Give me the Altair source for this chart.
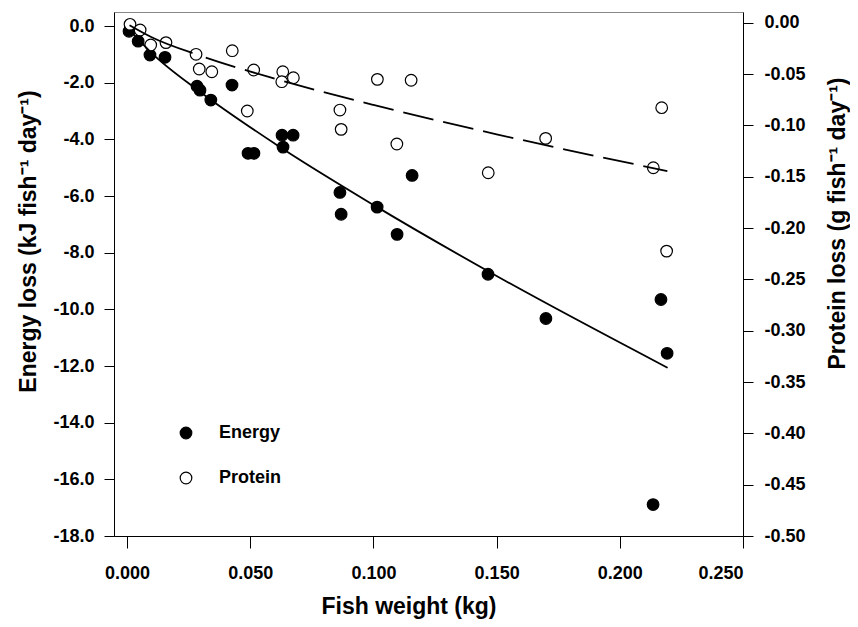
import altair as alt
import pandas as pd

# ---- data ----
energy_weight = [0.0008, 0.0045, 0.0093, 0.0154, 0.0284, 0.0296, 0.0340, 0.0426,
                 0.0491, 0.0515, 0.0629, 0.0633, 0.0674, 0.0864, 0.0869, 0.1015,
                 0.1096, 0.1157, 0.1465, 0.1700, 0.2167, 0.2192, 0.2135]
energy_loss = [-0.18, -0.53, -1.02, -1.10, -2.12, -2.26, -2.61, -2.08,
               -4.49, -4.49, -3.85, -4.27, -3.85, -5.87, -6.64, -6.39,
               -7.35, -5.27, -8.76, -10.32, -9.65, -11.55, -16.89]

protein_weight = [0.0012, 0.0053, 0.0096, 0.0158, 0.0280, 0.0293, 0.0344, 0.0427,
                  0.0488, 0.0514, 0.0632, 0.0628, 0.0675, 0.0864, 0.0869, 0.1016,
                  0.1153, 0.1095, 0.1466, 0.1699, 0.2170, 0.2136, 0.2190]
protein_loss = [-0.0016, -0.0071, -0.0217, -0.0194, -0.0308, -0.0451, -0.0478, -0.0273,
                -0.0860, -0.0461, -0.0478, -0.0575, -0.0536, -0.0851, -0.1039, -0.0552,
                -0.0561, -0.1182, -0.1462, -0.1127, -0.0828, -0.1413, -0.2225]

# fitted curves
energy_fit_weight = [0.001, 0.01, 0.03, 0.06, 0.10, 0.15, 0.2194]
energy_fit_loss = [-0.14, -0.95, -2.34, -4.15, -6.31, -8.82, -12.06]
protein_fit_weight = [0.001, 0.01, 0.03, 0.06, 0.10, 0.15, 0.2193]
protein_fit_loss = [-0.0025, -0.0142, -0.0324, -0.0546, -0.0801, -0.1087, -0.1445]

series_names = ["Energy", "Protein"]
x_ticks = [0.0, 0.05, 0.10, 0.15, 0.20, 0.25]
energy_ticks = [0, -2, -4, -6, -8, -10, -12, -14, -16, -18]
protein_ticks = [0.0, -0.05, -0.10, -0.15, -0.20, -0.25, -0.30, -0.35, -0.40, -0.45, -0.50]

energy_df = pd.DataFrame({"weight": energy_weight, "value": energy_loss, "series": "Energy"})
protein_df = pd.DataFrame({"weight": protein_weight, "value": protein_loss, "series": "Protein"})
energy_fit_df = pd.DataFrame({"weight": energy_fit_weight, "value": energy_fit_loss})
protein_fit_df = pd.DataFrame({"weight": protein_fit_weight, "value": protein_fit_loss})

FONT = "Liberation Sans"
MINUS = "\u2212"

x_enc = alt.X(
    "weight:Q",
    scale=alt.Scale(domain=[-0.0053, 0.25], nice=False, zero=False),
    axis=alt.Axis(
        values=x_ticks, format=".3f", title="Fish weight (kg)",
        tickSize=12, labelPadding=16,
        titleX=294.5, titleY=77, titleAlign="center", titleBaseline="alphabetic",
        titleAnchor="start",
    ),
)

energy_scale = alt.Scale(domain=[-18, 0.5], nice=False, zero=False)
protein_scale = alt.Scale(domain=[-0.5, 0.0104], nice=False, zero=False)

fill_enc = alt.Fill(
    "series:N",
    scale=alt.Scale(domain=series_names, range=["black", "white"]),
    legend=alt.Legend(
        title=None, orient="none", legendX=63, legendY=412,
        symbolType="circle", symbolSize=135, symbolStrokeColor="black",
        symbolStrokeWidth=1.2, labelFont=FONT, labelFontSize=18,
        labelFontWeight="bold", labelColor="black", labelOffset=24,
        rowPadding=27, padding=0,
    ),
)

energy_pts = alt.Chart(energy_df).mark_circle(
    size=135, opacity=1, stroke="black", strokeWidth=1.2
).encode(
    x=x_enc,
    y=alt.Y(
        "value:Q", scale=energy_scale,
        axis=alt.Axis(
            orient="left", values=energy_ticks, title="Energy loss (kJ fish\u207b\u00b9 day\u207b\u00b9)",
            labelExpr="replace(format(datum.value, '.1f'), '" + MINUS + "', '-')",
            tickSize=10, labelPadding=10,
            titleAngle=270, titleX=-79, titleY=229, titleAlign="center",
            titleBaseline="alphabetic", titleAnchor="start",
        ),
    ),
    fill=fill_enc,
)

protein_pts = alt.Chart(protein_df).mark_circle(
    size=135, opacity=1, stroke="black", strokeWidth=1.2
).encode(
    x=x_enc,
    y=alt.Y(
        "value:Q", scale=protein_scale,
        axis=alt.Axis(
            orient="right", values=protein_ticks, title="Protein loss (g fish\u207b\u00b9 day\u207b\u00b9)",
            labelExpr="replace(format(datum.value, '.2f'), '" + MINUS + "', '-')",
            tickSize=10, labelPadding=11,
            titleAngle=270, titleX=101, titleY=211, titleAlign="center",
            titleBaseline="alphabetic", titleAnchor="start",
        ),
    ),
    fill=fill_enc,
)

energy_line = alt.Chart(energy_fit_df).mark_line(
    color="black", strokeWidth=1.8, interpolate="monotone"
).encode(
    x=x_enc,
    y=alt.Y("value:Q", scale=energy_scale, axis=None),
)

protein_line = alt.Chart(protein_fit_df).mark_line(
    color="black", strokeWidth=1.8, interpolate="monotone",
    strokeDash=[69, 14] + [31, 10] * 14,
).encode(
    x=x_enc,
    y=alt.Y("value:Q", scale=protein_scale, axis=None),
)

chart = alt.layer(energy_pts, protein_pts, energy_line, protein_line).resolve_scale(
    y="independent"
).properties(
    width=629, height=524,
    autosize=alt.AutoSizeParams(type="none"),
    padding={"left": 106, "top": 4, "right": 107, "bottom": 83},
).configure_view(
    stroke="#888888", strokeWidth=1,
).configure_axis(
    grid=False,
    labelFont=FONT, labelFontSize=18, labelFontWeight="bold", labelColor="black",
    titleFont=FONT, titleFontSize=23, titleFontWeight="bold", titleColor="black",
    domainColor="black", domainWidth=1, tickColor="black", tickWidth=1,
)

chart.save("out.html", embed_options={"renderer": "svg", "actions": False})
